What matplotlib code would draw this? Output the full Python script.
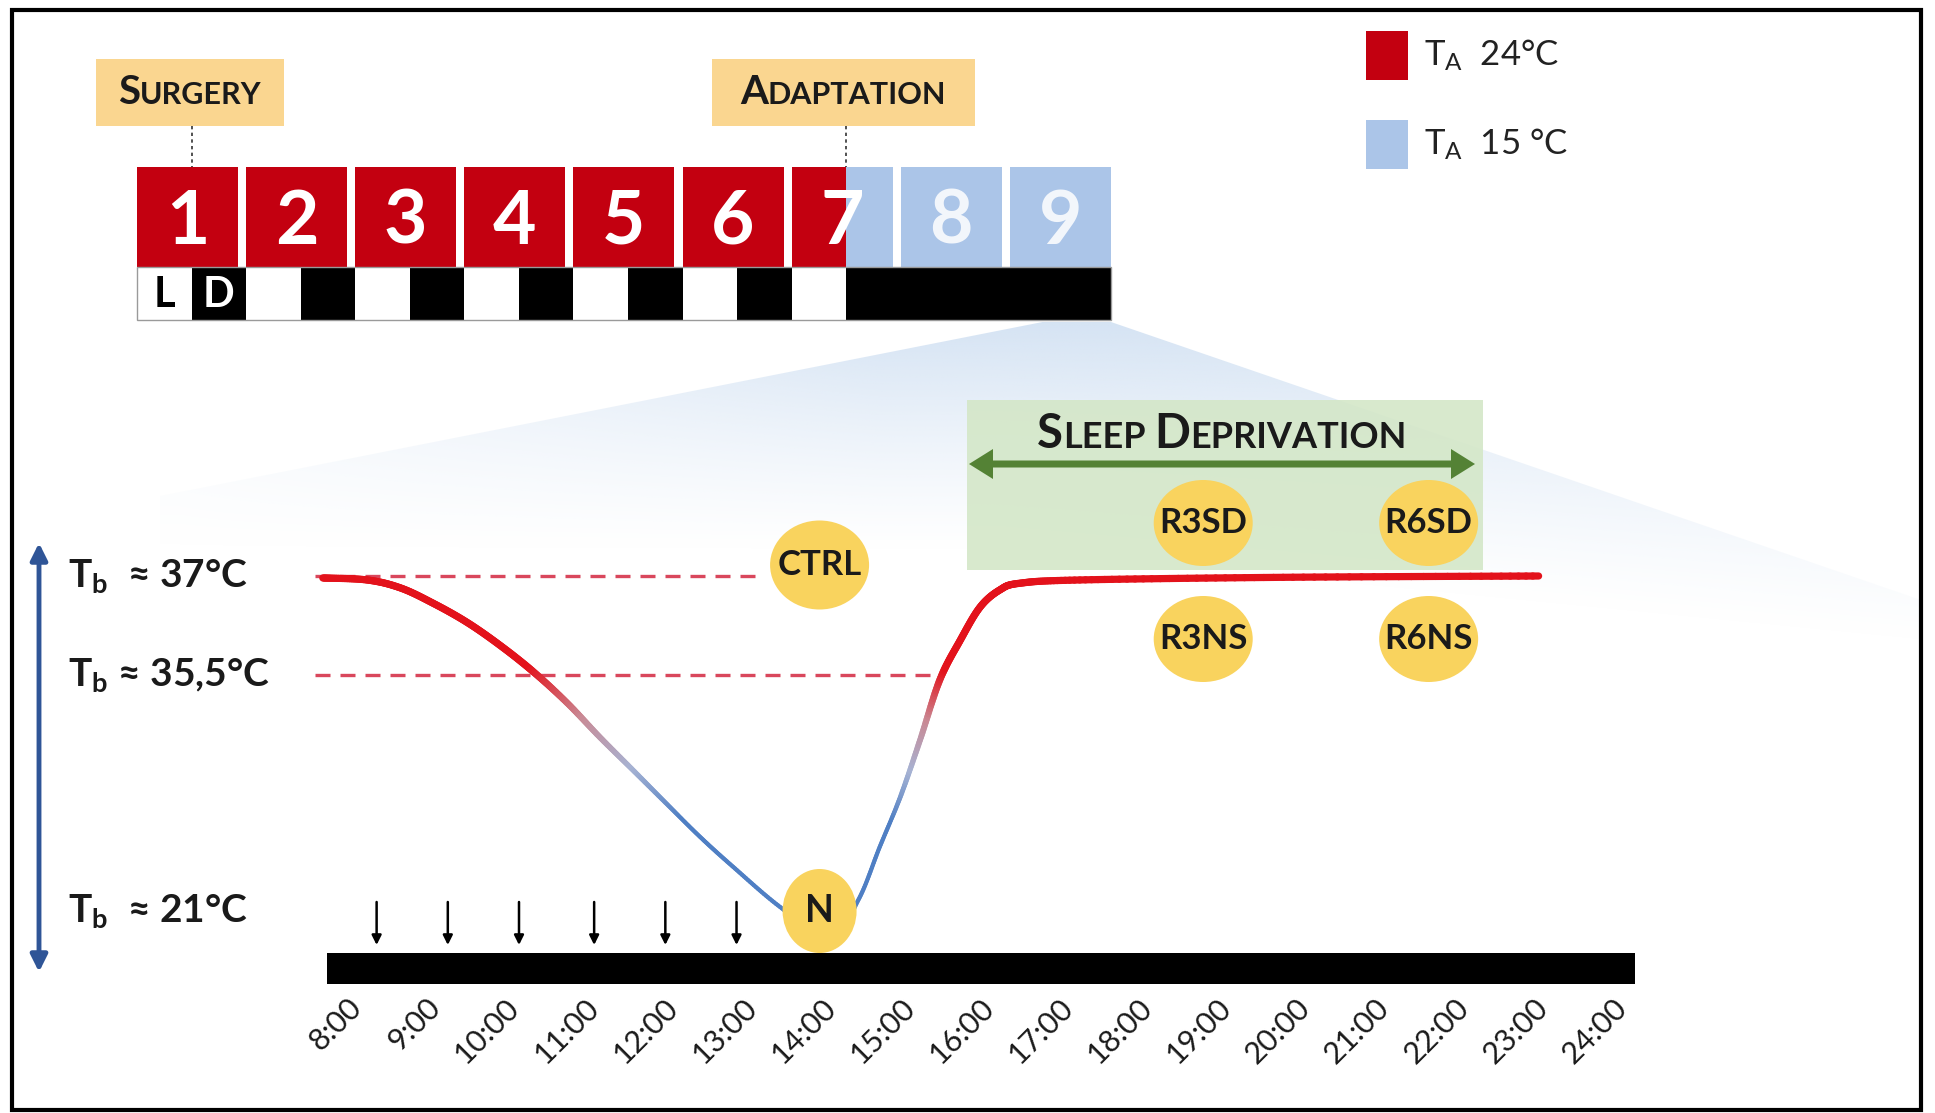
import numpy as np
import matplotlib.pyplot as plt
from matplotlib.patches import Rectangle, Ellipse, Polygon, FancyArrow
from matplotlib.collections import LineCollection
from matplotlib.colors import LinearSegmentedColormap, to_rgb
from matplotlib.offsetbox import TextArea, HPacker, AnnotationBbox

plt.rcParams['font.family'] = ['Lato', 'DejaVu Sans']
plt.rcParams['mathtext.fontset'] = 'custom'
plt.rcParams['mathtext.rm'] = 'Lato'
plt.rcParams['mathtext.bf'] = 'Lato:bold'
plt.rcParams['mathtext.it'] = 'Lato:italic'

# ---- data -------------------------------------------------------------
days = [1, 2, 3, 4, 5, 6, 7, 8, 9]
surgery_day = 0.5          # day index where the surgery marker sits
adaptation_day = 6.5       # switch T_A 24 -> 15 °C and constant darkness
legend_labels = [r"$\mathrm{T_A}$  24°C", r"$\mathrm{T_A}$  15 °C"]

hour_ticks = list(range(8, 25))
tick_labels = [f"{h}:00" for h in hour_ticks]

# schematic body temperature trace (hour, Tb °C)
curve_hours = [7.52, 8.08, 8.50, 8.91, 9.34, 9.76, 10.18, 10.61, 11.02, 11.44,
               11.87, 12.29, 12.71, 13.30, 13.93, 14.29, 14.56, 14.82, 15.07,
               15.32, 15.58, 15.83, 16.08, 16.33, 17.09, 19.66, 22.89]
curve_tb = [36.97, 36.94, 36.82, 36.59, 36.30, 35.95, 35.55, 33.78, 31.69, 29.66,
            27.57, 25.55, 23.70, 21.25, 19.22, 21.68, 24.93, 28.0, 31.5,
            35.2, 36.03, 36.53, 36.79, 36.89, 36.94, 36.98, 37.0]

tb_levels = [37, 35.5, 21]
tb_texts = [r"$\mathbf{T_b}$  ≈ 37°C", r"$\mathbf{T_b}$ ≈ 35,5°C", r"$\mathbf{T_b}$  ≈ 21°C"]
dash_spans = [(7.42, 13.11), (7.42, 15.34)]

arrow_hours = [8.2, 9.1, 10.0, 10.95, 11.85, 12.75]

group_names = ["CTRL", "N", "R3SD", "R6SD", "R3NS", "R6NS"]
group_hours = [13.8, 13.8, 18.65, 21.5, 18.65, 21.5]
group_tb = [37, 21, 37, 37, 37, 37]

# ---- layout (pixels) ----------------------------------------------------
W, H = 1935, 1113
RED, BLUE = "#c30010", "#abc5e8"
GOLD, TAG = "#f9d35e", "#fad690"
DAY_X0, PXD, BOX_W = 137, 109.1, 101
X10, PXH = 519, 79.1


def hx(h):
    return X10 + (np.asarray(h, float) - 10) * PXH


def ty(t):
    t = np.asarray(t, float)
    y = np.interp(t, [21, 35.5, 37], [911, 675, 576])
    return np.where(t < 21, 911 + (21 - t) * (236 / 14.5), y)


def dx(d):
    return DAY_X0 + np.asarray(d, float) * PXD


fig = plt.figure(figsize=(W / 100, H / 100), dpi=100)
ax = fig.add_axes([0, 0, 1, 1])
ax.axis('off')


def small_caps(x, y, words, big, small, color="#1a1a1a"):
    kw = dict(fontweight='bold', color=color, family=['Lato', 'DejaVu Sans'])
    parts = []
    for i, w in enumerate(words):
        if i:
            parts.append(TextArea(" ", textprops=dict(fontsize=small, **kw)))
        parts.append(TextArea(w[0], textprops=dict(fontsize=big, **kw)))
        parts.append(TextArea(w[1:], textprops=dict(fontsize=small, **kw)))
    box = HPacker(children=parts, align='baseline', pad=0, sep=0)
    ab = AnnotationBbox(box, (x, y), xycoords='data', frameon=False,
                        box_alignment=(0.5, 0.5), pad=0, zorder=8)
    ax.add_artist(ab)


# outer frame
ax.add_patch(Rectangle((12, 10), 1909, 1100, fill=False, ec='black', lw=3, zorder=10))

# zoom wedge (gradient fading downwards and to the left)
wedge = [(dx(8.3), 322), (1111, 322), (1921, 600), (1921, 700), (160, 700), (160, 496)]
gx = np.linspace(160, 1921, 400)
gy = np.linspace(322, 700, 200)
XX, YY = np.meshgrid(gx, gy)
fade_y = np.clip(1 - (YY - 322) / (230 + 0.1 * (XX - 1000).clip(0)), 0, 1) ** 1.2
fade_x = np.clip((XX - 180) / 700, 0, 1) ** 0.8
rgba = np.zeros(XX.shape + (4,))
rgba[..., :3] = to_rgb("#c4d8ef")
rgba[..., 3] = 0.7 * fade_y * (0.35 + 0.65 * fade_x)
im = ax.imshow(rgba, extent=(160, 1921, 700, 322), zorder=1, aspect='auto',
               interpolation='bilinear')
im.set_clip_path(Polygon(wedge, closed=True, transform=ax.transData))

# tags and dashed connectors
ax.add_patch(Rectangle((96, 59), 188, 67, fc=TAG, ec='none', zorder=3))
ax.add_patch(Rectangle((712, 59), 263, 67, fc=TAG, ec='none', zorder=3))
small_caps(190, 93, ["SURGERY"], 29, 22)
small_caps(843, 93, ["ADAPTATION"], 29, 22)
for d in (surgery_day, adaptation_day):
    ax.plot([dx(d)] * 2, [126, 167], ls=(0, (2, 2)), color='#333333', lw=1.2, zorder=3)

# day boxes
for k, d in enumerate(days):
    x0 = float(dx(k))
    x1 = x0 + BOX_W
    xr = min(x1, float(dx(adaptation_day)))
    if xr > x0:
        ax.add_patch(Rectangle((x0, 167), xr - x0, 100, fc=RED, ec='none', zorder=3))
    if x1 > xr:
        xb = max(x0, xr)
        ax.add_patch(Rectangle((xb, 167), x1 - xb, 100, fc=BLUE, ec='none', zorder=3))
    ax.text(x0 + BOX_W / 2, 222, str(d), color='white', alpha=1 if d <= 7 else 0.85,
            fontsize=54, fontweight='bold', ha='center', va='center', zorder=4)

# light / dark bar
bar_end = float(dx(9)) - (PXD - BOX_W)
for j in range(18):
    a, b = j / 2, (j + 1) / 2
    dark = (j % 2 == 1) or a >= adaptation_day
    xa, xb = float(dx(a)), min(float(dx(b)), bar_end)
    ax.add_patch(Rectangle((xa, 267), xb - xa, 53, fc='black' if dark else 'white',
                           ec='none', zorder=3))
ax.add_patch(Rectangle((DAY_X0, 267), bar_end - DAY_X0, 53, fill=False, ec='#9a9a9a',
                       lw=1, zorder=3))
ax.text(float(dx(0.25)), 295, "L", color='black', fontsize=30, fontweight='bold',
        ha='center', va='center', zorder=4)
ax.text(float(dx(0.75)), 295, "D", color='white', fontsize=30, fontweight='bold',
        ha='center', va='center', zorder=4)

# legend
for i, (lab, col) in enumerate(zip(legend_labels, [RED, BLUE])):
    yc = 55 + i * 89
    ax.add_patch(Rectangle((1366, yc - 24), 42, 49, fc=col, ec='none', zorder=3))
    ax.text(1424, yc, lab, fontsize=25, color='#222222', ha='left', va='center', zorder=4)

# sleep deprivation box
ax.add_patch(Rectangle((967, 400), 516, 170, fc='#d4e7c8', ec='none', alpha=0.9, zorder=2))
small_caps(1222, 434, ["SLEEP", "DEPRIVATION"], 34, 26)
cx = 1222
for sgn in (1, -1):
    ax.add_patch(FancyArrow(cx, 464, sgn * 253, 0, width=7, head_width=30, head_length=24,
                            length_includes_head=True, color='#548235', lw=0, zorder=4))

# vertical Tb axis
ax.annotate('', xy=(39, 543), xytext=(39, 972),
            arrowprops=dict(arrowstyle='<|-|>', color='#2f5597', lw=3.5,
                            mutation_scale=25, shrinkA=0, shrinkB=0), zorder=4)
for lvl, txt in zip(tb_levels, tb_texts):
    ax.text(68, float(ty(lvl)), txt, fontsize=28, fontweight='bold', color='#1a1a1a',
            ha='left', va='center', zorder=5)

# dashed reference lines
for lvl, (h0, h1) in zip(tb_levels[:2], dash_spans):
    ax.plot([hx(h0), hx(h1)], [ty(lvl)] * 2, color='#d9475c', lw=2.4,
            dashes=(4.5, 3), zorder=3)


# Tb trace, smoothed (Catmull-Rom in pixel space) and coloured by Tb
def catmull(px, py, n=24):
    P = np.column_stack([px, py])
    P = np.vstack([P[0], P, P[-1]])
    out = []
    t = np.linspace(0, 1, n, endpoint=False)[:, None]
    for i in range(1, len(P) - 2):
        p0, p1, p2, p3 = P[i - 1], P[i], P[i + 1], P[i + 2]
        out.append(0.5 * ((2 * p1) + (-p0 + p2) * t + (2 * p0 - 5 * p1 + 4 * p2 - p3) * t ** 2
                          + (-p0 + 3 * p1 - 3 * p2 + p3) * t ** 3))
    out.append(P[-2][None, :])
    return np.vstack(out)


pts = catmull(hx(curve_hours), ty(curve_tb))
segs = np.stack([pts[:-1], pts[1:]], axis=1)
ymid = (pts[:-1, 1] + pts[1:, 1]) / 2
frac = np.clip((ymid - 668) / (820 - 668), 0, 1)   # 0 = red, 1 = blue
cmap = LinearSegmentedColormap.from_list('tb', ['#e3121b', '#c98a95', '#a7b3d3', '#4f7fc4'])
lc = LineCollection(segs, colors=cmap(frac), linewidths=5.2 - 2.2 * frac,
                    capstyle='round', zorder=5)
ax.add_collection(lc)

# timeline bar, sampling arrows, tick labels
ax.add_patch(Rectangle((hx(7.57), 953), hx(24.11) - hx(7.57), 31, fc='black', ec='none',
                       zorder=5.5))
for h in arrow_hours:
    ax.annotate('', xy=(hx(h), 945), xytext=(hx(h), 902),
                arrowprops=dict(arrowstyle='-|>', color='black', lw=1.8,
                                mutation_scale=14, shrinkA=0, shrinkB=0), zorder=4)
for h, lab in zip(hour_ticks, tick_labels):
    ax.text(hx(h) - 14, 993, lab, rotation=45, rotation_mode='anchor', ha='right',
            va='top', fontsize=22, color='#1a1a1a', zorder=5)

# group markers
for name, h, tb in zip(group_names, group_hours, group_tb):
    yc = float(ty(tb))
    if name == "CTRL":
        yc -= 11; w, hh = 99, 89
    elif name == "N":
        w, hh = 74, 84
    elif name.endswith("SD"):
        yc -= 53; w, hh = 99, 86
    else:
        yc += 63; w, hh = 99, 86
    ax.add_patch(Ellipse((float(hx(h)), yc), w, hh, fc=GOLD, ec='none', zorder=6))
    ax.text(float(hx(h)), yc, name, fontsize=25 if name != "N" else 27, fontweight='bold',
            color='#1a1a1a', ha='center', va='center', zorder=7)

ax.set_xlim(0, W)
ax.set_ylim(H, 0)
fig.savefig("out.png", dpi=100, facecolor='white')
